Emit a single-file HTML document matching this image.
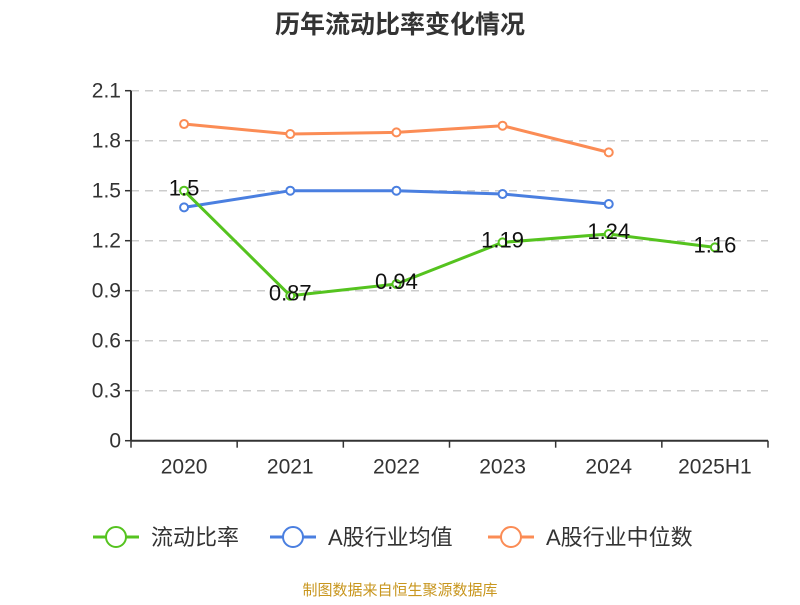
<!DOCTYPE html>
<html><head><meta charset="utf-8"><style>
body{margin:0;background:#fff;}
svg text{font-family:"Liberation Sans","Noto Sans CJK SC",sans-serif;}
</style></head><body>
<svg id="c" width="800" height="600" xmlns="http://www.w3.org/2000/svg">
<text x="400" y="33" text-anchor="middle" font-size="25" font-weight="bold" fill="#333">历年流动比率变化情况</text>
<g id="grid"></g><g id="axes"></g><g id="series"></g><g id="legend"></g>
<text x="400" y="595" text-anchor="middle" font-size="15" fill="#c8961e">制图数据来自恒生聚源数据库</text>
</svg>
<script>
const categories=["2020","2021","2022","2023","2024","2025H1"];
const yTicks=[0,0.3,0.6,0.9,1.2,1.5,1.8,2.1];
const yTickLabels=["0","0.3","0.6","0.9","1.2","1.5","1.8","2.1"];
const currentRatio=[1.5,0.87,0.94,1.19,1.24,1.16];
const currentRatioLabels=["1.5","0.87","0.94","1.19","1.24","1.16"];
const industryAvg=[1.40,1.50,1.50,1.48,1.42];
const industryMedian=[1.90,1.84,1.85,1.89,1.73];
const NS="http://www.w3.org/2000/svg";
const L=131,R=768,T=90.7,B=440.7,YMAX=2.1;
const xs=i=>L+(R-L)/categories.length*(i+0.5);
const ys=v=>B-(B-T)*v/YMAX;
function mk(tag,attrs,parent,txt){const e=document.createElementNS(NS,tag);for(const k in attrs)e.setAttribute(k,attrs[k]);if(txt!==undefined)e.textContent=txt;parent.appendChild(e);return e;}
const grid=document.getElementById('grid'),axes=document.getElementById('axes'),ser=document.getElementById('series'),leg=document.getElementById('legend');
yTicks.forEach((v,i)=>{
 if(v>0){const g=mk('line',{x1:L,x2:R,y1:ys(v),y2:ys(v),stroke:'#ccc','stroke-dasharray':'8,6','stroke-width':1.5},grid);
 
 }
 const tk=mk('line',{x1:L-6,x2:L,y1:ys(v),y2:ys(v),stroke:'#333','stroke-width':1.5},axes);
 
 
 const t=mk('text',{x:L-10,y:ys(v)+7,'text-anchor':'end','font-size':21,fill:'#333'},axes,yTickLabels[i]);
 
 
});
const ya=mk('line',{x1:L,x2:L,y1:T,y2:B,stroke:'#333','stroke-width':2},axes);


const xa=mk('line',{x1:L,x2:R,y1:B,y2:B,stroke:'#333','stroke-width':2},axes);


for(let i=0;i<=categories.length;i++){
 const x=L+(R-L)/categories.length*i;
 const tk=mk('line',{x1:x,x2:x,y1:B,y2:B+7,stroke:'#333','stroke-width':1.5},axes);
 
 
}
categories.forEach((c,i)=>{
 const t=mk('text',{x:xs(i),y:B+33,'text-anchor':'middle','font-size':21,fill:'#333'},axes,c);
 
 
});
function drawSeries(vals,color,name){
 const g=mk('g',{},ser);
 
 
 const p=mk('polyline',{points:vals.map((v,i)=>xs(i)+','+ys(v)).join(' '),fill:'none',stroke:color,'stroke-width':3,'stroke-linejoin':'round'},g);
 
 
 vals.forEach((v,i)=>{
  const c=mk('circle',{cx:xs(i),cy:ys(v),r:4,fill:'#fff',stroke:color,'stroke-width':2},g);
  
  
 });
}
drawSeries(industryMedian,'#fb8c55','industry-median');
drawSeries(industryAvg,'#4a7fe0','industry-average');
drawSeries(currentRatio,'#55c31f','current-ratio');
currentRatio.forEach((v,i)=>{
 const t=mk('text',{x:xs(i),y:ys(v)+5,'text-anchor':'middle','font-size':22,fill:'#111'},ser,currentRatioLabels[i]);
 
 
});
const legItems=[["流动比率",'#55c31f',93],["A股行业均值",'#4a7fe0',270],["A股行业中位数",'#fb8c55',488]];
legItems.forEach(([n,c,x])=>{
 const g=mk('g',{},leg);
 
 
 mk('line',{x1:x,x2:x+46,y1:537,y2:537,stroke:c,'stroke-width':3},g);
 mk('circle',{cx:x+23,cy:537,r:10,fill:'#fff',stroke:c,'stroke-width':2},g);
 mk('text',{x:x+58,y:545,'font-size':22,fill:'#333'},g,n);
});
</script>
</body></html>
